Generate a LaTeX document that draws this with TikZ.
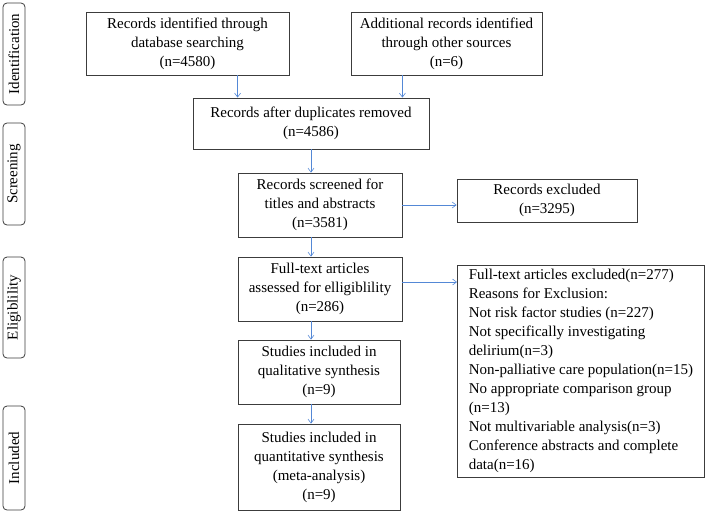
\documentclass[tikz,border=0pt]{standalone}
\usepackage{fontspec}
\setmainfont{Liberation Serif}
\usetikzlibrary{arrows.meta}
\definecolor{flowblue}{RGB}{84,136,214}
\definecolor{boxgray}{RGB}{60,60,60}
\begin{document}
\begin{tikzpicture}[
    x=1pt, y=-1pt,
    box/.style={draw=boxgray, thick, align=center, inner sep=2pt, font=\fontsize{15}{19}\selectfont},
    listbox/.style={draw=boxgray, thick, align=left, inner sep=4pt, anchor=north west, font=\fontsize{15}{19}\selectfont},
    phase/.style={draw=boxgray, thick, rounded corners=4pt, rotate=90, minimum height=22, inner sep=1pt, font=\fontsize{15}{19}\selectfont},
    flow/.style={-{Straight Barb[length=4pt,width=6pt]}, flowblue, semithick},
]
\useasboundingbox (0,0) rectangle (708,512);

% Phases
\node[phase, minimum width=102] (pid) at (14,54) {Identification};
\node[phase, minimum width=102] (psc) at (14,174) {Screening};
\node[phase, minimum width=101] (pel) at (14,307.5) {Eligiblility};
\node[phase, minimum width=104] (pin) at (14,458) {Included};

% Identification
\node[box, minimum width=203, minimum height=63] (db) at (187.5,43.5) {Records identified through\\database searching\\(n=4580)};
\node[box, minimum width=191, minimum height=63] (other) at (446.5,43.5) {Additional records identified\\through other sources\\(n=6)};
\node[box, minimum width=236, minimum height=51] (dup) at (311,123.5) {Records after duplicates removed\\(n=4586)};

% Screening
\node[box, minimum width=164, minimum height=64] (screen) at (320,205) {Records screened for\\titles and abstracts\\(n=3581)};
\node[box, minimum width=180, minimum height=43] (excl) at (547,200.5) {Records excluded\\(n=3295)};

% Eligibility
\node[box, minimum width=164, minimum height=64] (full) at (320,289) {Full-text articles\\assessed for elligiblility\\(n=286)};
\node[listbox, minimum width=247, minimum height=208] (reasons) at (457,265) {Full-text articles excluded(n=277)\\Reasons for Exclusion:\\Not risk factor studies (n=227)\\Not specifically investigating\\delirium(n=3)\\Non-palliative care population(n=15)\\No appropriate comparison group\\(n=13)\\Not multivariable analysis(n=3)\\Conference abstracts and complete\\data(n=16)};

% Included
\node[box, minimum width=162, minimum height=64] (qual) at (319,372) {Studies included in\\qualitative synthesis\\(n=9)};
\node[box, minimum width=162, minimum height=86] (quant) at (319,467) {Studies included in\\quantitative synthesis\\(meta-analysis)\\(n=9)};

% Arrows
\draw[flow] (db.south -| screen.west) -- (dup.north -| screen.west);
\draw[flow] (other.south -| screen.east) -- (dup.north -| screen.east);
\draw[flow] (dup.south) -- (dup.south |- screen.north);
\draw[flow] (screen.east) -- (screen.east -| excl.west);
\draw[flow] (dup.south |- screen.south) -- (dup.south |- full.north);
\draw[flow] ([yshift=7pt]full.east) -- ([yshift=7pt]full.east -| reasons.west);
\draw[flow] (dup.south |- full.south) -- (dup.south |- qual.north);
\draw[flow] (dup.south |- qual.south) -- (dup.south |- quant.north);
\end{tikzpicture}
\end{document}
